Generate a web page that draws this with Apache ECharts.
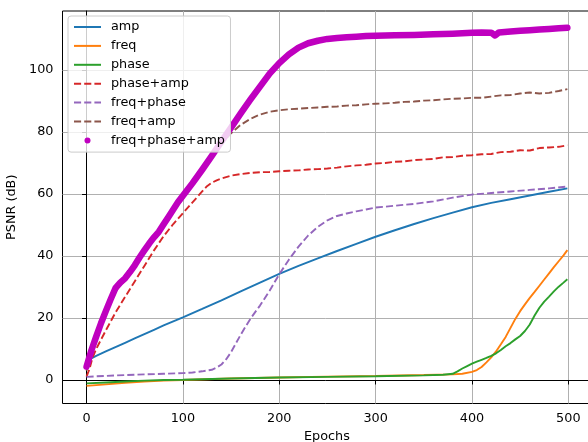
<!DOCTYPE html>
<html>
<head>
<meta charset="utf-8">
<script src="https://cdn.jsdelivr.net/npm/echarts@6/dist/echarts.min.js"></script>
<style>
  html, body { margin: 0; padding: 0; background: #fff; }
  #chart { width: 588px; height: 442px; }
</style>
</head>
<body>
<div id="chart"></div>
<script>
// PSNR (dB) per training epoch for each parameterisation
const xTicks = [0, 100, 200, 300, 400, 500];
const yTicks = [0, 20, 40, 60, 80, 100];

const ampEpochs = [0, 2, 5, 10, 20, 30, 40, 50, 60, 70, 80, 90, 100, 120, 140, 160, 180, 200, 220, 240, 260, 280, 300, 320, 340, 360, 380, 400, 420, 440, 460, 480, 499];
const ampPsnr = [5.6, 6.3, 7.0, 7.8, 9.2, 10.6, 12.0, 13.4, 14.8, 16.2, 17.6, 18.9, 20.2, 22.9, 25.7, 28.6, 31.4, 34.2, 36.8, 39.2, 41.6, 43.9, 46.2, 48.3, 50.3, 52.2, 54.0, 55.7, 57.1, 58.3, 59.5, 60.7, 61.8];

const freqEpochs = [0, 20, 40, 60, 80, 100, 150, 200, 250, 300, 350, 380, 390, 400, 405, 410, 415, 420, 425, 430, 435, 440, 445, 450, 455, 460, 465, 470, 475, 480, 485, 490, 495, 499];
const freqPsnr = [-1.9, -1.4, -0.9, -0.5, -0.2, 0.0, 0.5, 0.8, 1.1, 1.3, 1.6, 1.8, 2.0, 2.6, 3.2, 4.2, 5.7, 7.3, 9.2, 11.5, 13.9, 16.8, 19.7, 22.2, 24.4, 26.5, 28.4, 30.4, 32.4, 34.4, 36.4, 38.3, 40.2, 41.9];

const phaseEpochs = [0, 20, 40, 60, 80, 100, 150, 200, 250, 300, 350, 370, 380, 385, 390, 395, 400, 405, 410, 415, 420, 425, 430, 435, 440, 445, 450, 455, 460, 465, 470, 475, 480, 485, 490, 495, 499];
const phasePsnr = [-1.1, -0.8, -0.5, -0.2, 0.0, 0.1, 0.5, 0.8, 1.0, 1.2, 1.5, 1.7, 2.0, 2.8, 3.7, 4.5, 5.3, 5.9, 6.5, 7.1, 7.8, 8.6, 9.7, 10.9, 11.9, 13.1, 14.2, 15.8, 17.9, 20.8, 23.3, 25.3, 26.9, 28.6, 30.1, 31.4, 32.5];

const phaseAmpEpochs = [0, 3, 6, 10, 15, 20, 30, 40, 50, 60, 70, 80, 90, 100, 110, 120, 125, 130, 135, 140, 150, 160, 170, 180, 190, 200, 210, 220, 230, 240, 250, 260, 270, 280, 290, 300, 310, 320, 330, 340, 350, 360, 370, 380, 390, 400, 410, 420, 430, 440, 450, 460, 470, 480, 490, 499];
const phaseAmpPsnr = [1.1, 3.5, 7.0, 10.0, 13.0, 16.0, 21.7, 26.8, 31.8, 36.8, 41.8, 46.4, 50.3, 53.8, 57.3, 60.8, 62.5, 63.6, 64.4, 65.0, 65.9, 66.4, 66.8, 67.0, 67.1, 67.3, 67.5, 67.6, 67.9, 68.0, 68.2, 68.5, 68.9, 69.2, 69.4, 69.8, 70.0, 70.4, 70.5, 70.9, 71.1, 71.3, 71.8, 71.9, 72.3, 72.5, 72.8, 72.9, 73.5, 73.6, 74.1, 74.0, 74.8, 75.0, 75.2, 75.7];

const freqPhaseEpochs = [0, 10, 20, 40, 60, 80, 100, 110, 120, 130, 135, 140, 145, 150, 155, 160, 165, 170, 175, 180, 190, 200, 210, 220, 230, 240, 250, 260, 270, 280, 290, 300, 320, 340, 360, 380, 400, 420, 440, 460, 480, 499];
const freqPhasePsnr = [1.0, 1.2, 1.3, 1.6, 1.8, 2.0, 2.2, 2.4, 2.8, 3.3, 4.0, 5.0, 6.7, 9.0, 11.8, 14.6, 17.2, 19.7, 21.9, 24.0, 28.8, 34.1, 38.8, 43.0, 46.6, 49.4, 51.5, 52.9, 53.7, 54.4, 55.0, 55.6, 56.2, 56.8, 57.6, 58.8, 59.8, 60.3, 60.8, 61.3, 61.8, 62.4];

const freqAmpEpochs = [0, 5, 10, 20, 30, 35, 40, 45, 50, 60, 70, 80, 90, 100, 110, 120, 130, 140, 150, 160, 170, 180, 190, 200, 210, 220, 230, 240, 250, 260, 270, 280, 290, 300, 310, 320, 330, 340, 350, 360, 370, 380, 390, 400, 410, 420, 430, 440, 450, 460, 470, 480, 490, 499];
const freqAmpPsnr = [3.0, 8.5, 13.0, 21.0, 28.5, 30.6, 32.0, 34.0, 36.3, 41.2, 45.3, 49.6, 54.3, 58.5, 62.7, 67.0, 71.5, 76.0, 79.6, 82.3, 84.2, 85.6, 86.5, 87.0, 87.3, 87.5, 87.7, 87.9, 88.1, 88.2, 88.5, 88.6, 88.9, 89.1, 89.2, 89.4, 89.7, 89.8, 90.1, 90.2, 90.5, 90.7, 90.8, 91.0, 91.0, 91.4, 91.8, 91.9, 92.4, 92.7, 92.4, 92.6, 93.2, 93.8];

const allEpochs = [0, 5, 10, 15, 20, 25, 30, 35, 40, 45, 50, 55, 60, 65, 70, 75, 80, 85, 90, 95, 100, 110, 120, 130, 140, 150, 160, 170, 180, 190, 200, 210, 220, 230, 240, 250, 260, 270, 280, 290, 300, 320, 340, 360, 380, 400, 410, 420, 424, 428, 440, 450, 460, 470, 480, 490, 499];
const allPsnr = [4.3, 9.5, 14.0, 18.3, 22.2, 26.0, 29.6, 31.4, 32.8, 34.8, 37.0, 39.5, 41.8, 44.0, 46.0, 47.8, 50.2, 52.6, 55.0, 57.4, 59.4, 63.5, 67.8, 72.3, 76.9, 81.4, 86.0, 90.4, 94.6, 98.8, 102.2, 105.0, 107.2, 108.6, 109.4, 110.0, 110.3, 110.5, 110.7, 110.9, 111.0, 111.2, 111.3, 111.5, 111.7, 112.0, 112.1, 112.0, 111.1, 112.1, 112.4, 112.6, 112.8, 113.0, 113.2, 113.4, 113.6];

const FONT = 'DejaVu Sans';
const DASH = [7.1, 3.1];

function pairs(xs, ys) {
  return xs.map((x, i) => [x, ys[i]]);
}

function lineSeries(name, xs, ys, color, dashed) {
  return {
    name: name,
    type: 'line',
    data: pairs(xs, ys),
    symbol: 'none',
    smooth: false,
    animation: false,
    lineStyle: { color: color, width: 1.9, type: dashed ? DASH : 'solid' },
    itemStyle: { color: color }
  };
}

const chart = echarts.init(document.getElementById('chart'), null, { renderer: 'canvas' });

chart.setOption({
  animation: false,
  backgroundColor: '#ffffff',
  grid: {
    left: 62.5, top: 11, width: 528.9, height: 392.5,
    containLabel: false, outerBoundsMode: 'none',
    show: true, borderColor: '#000000', borderWidth: 1, backgroundColor: 'transparent'
  },
  xAxis: {
    type: 'value',
    min: -24.95, max: 523.95,
    name: 'Epochs', nameLocation: 'middle', nameGap: 26,
    nameTextStyle: { fontFamily: FONT, fontSize: 12.8, color: '#000' },
    axisLine: { show: true, lineStyle: { color: '#000', width: 1 } },
    axisTick: { show: true, length: 4.5, lineStyle: { color: '#000', width: 1 }, customValues: xTicks },
    axisLabel: { fontFamily: FONT, fontSize: 12.8, color: '#000', margin: 9, customValues: xTicks },
    splitLine: { show: true, lineStyle: { color: '#b0b0b0', width: 1 } }
  },
  yAxis: {
    type: 'value',
    min: -7.58, max: 119.0,
    name: 'PSNR (dB)', nameLocation: 'middle', nameGap: 35, nameRotate: 90,
    nameTextStyle: { fontFamily: FONT, fontSize: 12.8, color: '#000' },
    axisLine: { show: true, lineStyle: { color: '#000', width: 1 } },
    axisTick: { show: true, length: 4.5, lineStyle: { color: '#000', width: 1 }, customValues: yTicks },
    axisLabel: { fontFamily: FONT, fontSize: 12.8, color: '#000', margin: 9, customValues: yTicks },
    splitLine: { show: true, lineStyle: { color: '#b0b0b0', width: 1 } }
  },
  legend: {
    orient: 'vertical',
    left: 68, top: 16,
    padding: [4, 5.5, 4.7, 5],
    itemWidth: 27, itemHeight: 6, itemGap: 4.9,
    backgroundColor: 'rgba(255,255,255,0.8)',
    borderColor: '#cccccc', borderWidth: 1, borderRadius: 3,
    selectedMode: false,
    itemStyle: { opacity: 0 },
    textStyle: { fontFamily: FONT, fontSize: 12.8, color: '#000', lineHeight: 14, padding: [0, 0, 0, 5] },
    data: [
      { name: 'amp' },
      { name: 'freq' },
      { name: 'phase' },
      { name: 'phase+amp' },
      { name: 'freq+phase' },
      { name: 'freq+amp' },
      { name: 'freq+phase+amp', icon: 'circle', itemStyle: { opacity: 1, color: '#bf00bf' } }
    ]
  },
  series: [
    lineSeries('amp', ampEpochs, ampPsnr, '#1f77b4', false),
    lineSeries('freq', freqEpochs, freqPsnr, '#ff7f0e', false),
    lineSeries('phase', phaseEpochs, phasePsnr, '#2ca02c', false),
    lineSeries('phase+amp', phaseAmpEpochs, phaseAmpPsnr, '#d62728', true),
    lineSeries('freq+phase', freqPhaseEpochs, freqPhasePsnr, '#9467bd', true),
    lineSeries('freq+amp', freqAmpEpochs, freqAmpPsnr, '#8c564b', true),
    {
      name: 'freq+phase+amp',
      type: 'line',
      data: pairs(allEpochs, allPsnr),
      symbol: 'none',
      animation: false,
      lineStyle: { color: '#bf00bf', width: 6.5, cap: 'round', join: 'round' },
      itemStyle: { color: '#bf00bf' }
    }
  ]
});
</script>
</body>
</html>
